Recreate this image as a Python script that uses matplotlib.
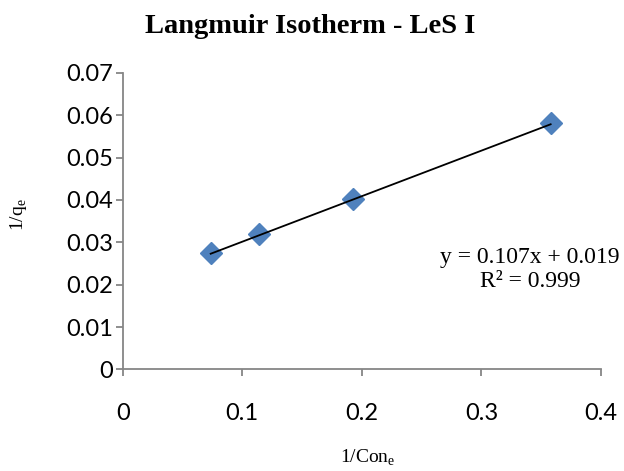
import numpy as np
import matplotlib.pyplot as plt

# reciprocal data for the Langmuir plot
inv_ce = [0.0736, 0.114, 0.1928, 0.3579]   # 1/Ce
inv_qe = [0.0274, 0.0320, 0.0402, 0.0581]  # 1/qe

# linear trendline (rounded to 3 d.p. in the label)
slope = 0.1074
intercept = 0.0194
r2 = 0.999

xticks = [0, 0.1, 0.2, 0.3, 0.4]
yticks = [0, 0.01, 0.02, 0.03, 0.04, 0.05, 0.06, 0.07]

axis_grey = '#868686'

fig = plt.figure(figsize=(6.24, 4.71), dpi=100)
ax = fig.add_axes([0.1966, 0.2155, 0.7665, 0.6301])

ax.plot(inv_ce, inv_qe, linestyle='none', marker='D', markersize=11,
        color='#4F81BD', markeredgecolor='#4F81BD', zorder=3)

xfit = np.array([min(inv_ce), max(inv_ce)])
ax.plot(xfit, slope * xfit + intercept, color='black', linewidth=1.3, zorder=4)

ax.set_xlim(0, 0.4)
ax.set_ylim(0, 0.07)
ax.set_xticks(xticks)
ax.set_yticks(yticks)
ax.set_xticklabels(['0', '0.1', '0.2', '0.3', '0.4'])
ax.set_yticklabels(['0', '0.01', '0.02', '0.03', '0.04', '0.05', '0.06', '0.07'])

for side in ['top', 'right']:
    ax.spines[side].set_visible(False)
for side in ['left', 'bottom']:
    ax.spines[side].set_color(axis_grey)
    ax.spines[side].set_linewidth(1.3)

ax.tick_params(axis='both', direction='out', length=5, width=1.3, color=axis_grey,
               labelsize=17, labelcolor='black')
ax.tick_params(axis='x', pad=19)
ax.tick_params(axis='y', pad=2)
for lab in ax.get_xticklabels() + ax.get_yticklabels():
    lab.set_family('Lato')

fig.text(0.497, 0.930, 'Langmuir Isotherm - LeS I', ha='center', va='baseline',
         family='Liberation Serif', fontweight='bold', fontsize=20.5)

fig.text(0.590, 0.028, r'1/Con$_\mathregular{e}$', ha='center', va='center',
         family='Liberation Serif', fontsize=14)
fig.text(0.030, 0.545, r'1/q$_\mathregular{e}$', ha='center', va='center', rotation=90,
         family='Liberation Serif', fontsize=14)

fig.text(0.849, 0.4416, 'y = {0:.3f}x + {1:.3f}'.format(slope, intercept),
         ha='center', va='baseline', family='Liberation Serif', fontsize=17)
fig.text(0.849, 0.3907, 'R² = {0:.3f}'.format(r2),
         ha='center', va='baseline', family='Liberation Serif', fontsize=17)

plt.savefig('out.png', dpi=100)
